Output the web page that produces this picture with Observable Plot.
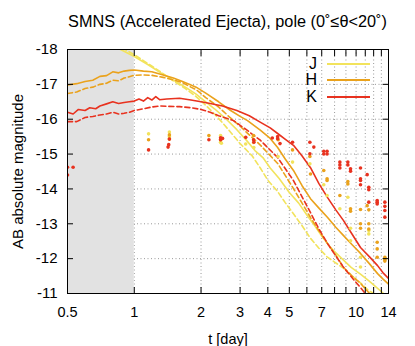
<!DOCTYPE html>
<html><head><meta charset="utf-8">
<script src="https://cdn.jsdelivr.net/npm/d3@7"></script>
<script src="https://cdn.jsdelivr.net/npm/@observablehq/plot@0.6"></script>
<style>
body{margin:0;background:#fff;font-family:"Liberation Sans",Arial,sans-serif;}
#wrap{position:relative;width:415px;height:346px;}
#title{position:absolute;left:27px;width:401px;top:12px;text-align:center;font-size:16.3px;white-space:nowrap;}
.lgl{position:absolute;font-size:16px;text-align:right;width:30px;line-height:16px;}
.lgs{position:absolute;height:2px;}
</style></head>
<body><div id="wrap"><div id="title">SMNS (Accelerated Ejecta), pole (0˚≤θ&lt;20˚)</div></div>
<script>
// ---- simulated light curves (t in days, AB magnitude) ----
const jSolidT = [0.5, 0.7, 0.85, 1.0, 1.15, 1.3, 1.5, 1.7, 1.9, 2.1, 2.3, 2.6, 2.9, 3.2, 3.5, 3.8, 4.1, 4.5, 5.0, 5.5, 6.0, 6.5, 7.0, 7.5, 8.0, 8.8, 9.5, 10.5, 11.5, 12.5, 13.3, 14];
const jSolidM = [-18.9, -18.4, -18.03, -17.8, -17.57, -17.35, -17.12, -16.92, -16.72, -16.5, -16.3, -16.0, -15.7, -15.4, -15.1, -14.9, -14.6, -14.3, -13.9, -13.6, -13.25, -12.95, -12.65, -12.4, -12.2, -11.95, -11.75, -11.55, -11.35, -11.15, -11.0, -10.85];
const jDashT = [0.5, 0.7, 0.85, 1.0, 1.15, 1.3, 1.5, 1.7, 1.9, 2.1, 2.3, 2.45, 2.7, 3.0, 3.4, 3.7, 4.0, 4.4, 4.8, 5.2, 5.7, 6.2, 6.8, 7.4, 8.0, 8.8, 9.6, 10.5, 11.3, 12.0, 12.6];
const jDashM = [-19.0, -18.5, -18.1, -17.85, -17.6, -17.38, -17.1, -16.88, -16.65, -16.4, -16.15, -15.96, -15.65, -15.3, -14.95, -14.6, -14.25, -13.95, -13.6, -13.3, -12.95, -12.6, -12.3, -12.05, -11.9, -11.72, -11.5, -11.3, -11.1, -11.0, -10.9];
const hSolidT = [0.5, 0.55, 0.6, 0.65, 0.7, 0.75, 0.8, 0.85, 0.9, 0.95, 1.0, 1.1, 1.2, 1.35, 1.5, 1.65, 1.8, 1.9, 2.1, 2.4, 2.72, 3.0, 3.24, 3.71, 4.1, 4.43, 4.8, 5.22, 5.7, 6.23, 6.8, 7.44, 8.1, 8.78, 9.6, 10.47, 11.5, 12.5, 13.2, 14];
const hSolidM = [-16.98, -17.02, -17.08, -17.12, -17.23, -17.25, -17.36, -17.33, -17.38, -17.4, -17.41, -17.38, -17.36, -17.27, -17.18, -17.08, -16.98, -16.92, -16.75, -16.5, -16.25, -16.08, -15.96, -15.68, -15.45, -15.19, -14.85, -14.53, -14.1, -13.72, -13.45, -13.18, -12.9, -12.66, -12.4, -12.15, -11.85, -11.57, -11.42, -11.27];
const hDashT = [0.5, 0.55, 0.6, 0.65, 0.7, 0.75, 0.8, 0.85, 0.9, 0.95, 1.0, 1.1, 1.2, 1.35, 1.5, 1.65, 1.8, 1.9, 2.1, 2.4, 2.7, 3.0, 3.3, 3.71, 4.43, 4.8, 5.22, 5.7, 6.23, 6.8, 7.44, 8.1, 8.78, 9.6, 10.47, 11.5];
const hDashM = [-16.74, -16.78, -16.88, -16.92, -17.0, -17.03, -17.12, -17.1, -17.18, -17.22, -17.26, -17.27, -17.26, -17.2, -17.13, -17.05, -16.92, -16.85, -16.62, -16.35, -16.05, -15.8, -15.55, -15.25, -14.73, -14.38, -14.01, -13.6, -13.18, -12.8, -12.43, -12.1, -11.75, -11.5, -11.29, -11.0];
const kSolidT = [0.5, 0.53, 0.56, 0.6, 0.63, 0.67, 0.7, 0.75, 0.8, 0.85, 0.9, 0.95, 1.0, 1.05, 1.1, 1.15, 1.2, 1.25, 1.3, 1.4, 1.6, 1.8, 2.0, 2.2, 2.5, 2.9, 3.3, 3.71, 4.1, 4.43, 4.8, 5.22, 5.7, 6.23, 6.8, 7.44, 8.1, 8.78, 9.6, 10.47, 11.5, 12.5, 13.2, 14];
const kSolidM = [-16.2, -16.15, -16.28, -16.25, -16.33, -16.3, -16.38, -16.44, -16.5, -16.45, -16.48, -16.5, -16.52, -16.58, -16.52, -16.62, -16.55, -16.65, -16.56, -16.58, -16.6, -16.55, -16.5, -16.45, -16.38, -16.25, -16.1, -15.91, -15.75, -15.59, -15.42, -15.25, -14.95, -14.61, -14.15, -13.75, -13.4, -13.09, -12.7, -12.32, -12.05, -11.8, -11.6, -11.43];
const kDashT = [0.5, 0.55, 0.6, 0.65, 0.7, 0.75, 0.8, 0.85, 0.9, 0.95, 1.0, 1.1, 1.2, 1.3, 1.4, 1.6, 1.8, 2.0, 2.2, 2.4, 2.8, 3.2, 3.71, 4.43, 5.22, 5.7, 6.23, 6.8, 7.44, 8.1, 8.78, 9.6, 10.47, 11.0];
const kDashM = [-15.93, -15.93, -16.05, -16.08, -16.12, -16.15, -16.2, -16.15, -16.17, -16.2, -16.25, -16.3, -16.35, -16.38, -16.37, -16.36, -16.33, -16.28, -16.2, -16.1, -15.96, -15.7, -15.39, -14.9, -14.24, -13.78, -13.32, -12.85, -12.43, -12.08, -11.75, -11.45, -11.17, -11.0];

// ---- observed points ----
const jObsT = [1.16, 1.44, 1.44, 2.45, 2.45, 2.47, 3.18, 3.45, 3.46, 4.45, 5.17, 6.19, 7.15, 7.4, 8.45, 9.18, 9.44, 9.44, 10.47, 10.47, 11.41, 11.41, 13.48];
const jObsM = [-15.58, -15.63, -15.5, -15.53, -15.34, -15.31, -15.29, -15.33, -15.19, -14.93, -14.77, -14.72, -14.12, -13.81, -13.43, -13.76, -12.87, -12.51, -12.04, -11.76, -12.81, -12.71, -12.0];
const hObsT = [1.16, 1.44, 1.44, 2.17, 2.45, 3.45, 4.45, 5.17, 6.19, 6.23, 7.15, 7.4, 7.4, 8.45, 9.18, 9.18, 9.44, 9.44, 10.47, 10.47, 10.47, 11.22, 11.41, 11.41, 11.41, 12.45, 12.45, 12.45, 13.48, 13.48, 13.48];
const hObsM = [-15.41, -15.55, -15.43, -15.53, -15.41, -15.53, -15.41, -15.12, -14.93, -14.43, -14.53, -14.29, -14.24, -13.81, -14.21, -14.14, -13.43, -13.36, -13.41, -13.0, -12.87, -13.52, -13.4, -13.0, -12.85, -12.47, -12.28, -12.04, -12.04, -11.97, -11.93];
const kObsT = [0.5, 0.53, 0.5, 1.16, 1.44, 1.43, 1.42, 2.17, 2.45, 2.45, 2.5, 3.18, 3.45, 3.46, 4.19, 4.43, 4.43, 4.54, 5.17, 6.19, 6.45, 6.19, 7.15, 7.15, 7.4, 7.4, 8.45, 8.45, 8.45, 9.18, 9.18, 9.44, 9.44, 10.47, 11.22, 10.47, 10.47, 10.47, 11.41, 11.41, 11.41, 12.45, 12.45, 12.45, 13.48, 13.48, 13.48, 13.48];
const kObsM = [-14.62, -14.62, -14.4, -15.12, -15.43, -15.27, -15.2, -15.41, -15.47, -15.41, -15.45, -15.48, -15.41, -15.34, -15.46, -15.5, -15.44, -15.3, -15.34, -15.34, -15.2, -15.01, -15.08, -15.0, -15.08, -15.0, -14.77, -14.69, -14.6, -14.77, -14.69, -14.58, -14.51, -14.6, -14.41, -14.29, -14.24, -14.12, -14.05, -13.98, -13.62, -13.67, -13.62, -13.57, -13.62, -13.5, -13.38, -13.19];

// ---- axes / legend ----
const bands = ["J", "H", "K"];
const bandColors = ["#f2e35c", "#eaa21c", "#e8321f"];
const xTickLabels = [0.5, 1, 2, 3, 4, 5, 7, 10, 14];
const xMinorTicks = [6, 8, 9, 11, 12, 13];
const xGrid = [1, 2, 3, 4, 5, 6, 7, 8, 9, 10, 11, 12, 13];
const yTicks = [-18, -17, -16, -15, -14, -13, -12, -11];
const shadeRange = [0.5, 1];
const xDomain = [0.5, 14];
const yDomain = [-18, -11];

const toRows = (T, M) => T.map((t, i) => ({t, m: M[i]}));
const series = [
  {rows: toRows(jDashT, jDashM), c: bandColors[0], dash: true},
  {rows: toRows(jSolidT, jSolidM), c: bandColors[0], dash: false},
  {rows: toRows(hDashT, hDashM), c: bandColors[1], dash: true},
  {rows: toRows(hSolidT, hSolidM), c: bandColors[1], dash: false},
  {rows: toRows(kDashT, kDashM), c: bandColors[2], dash: true},
  {rows: toRows(kSolidT, kSolidM), c: bandColors[2], dash: false}
];
const obs = [
  {rows: toRows(jObsT, jObsM), c: bandColors[0]},
  {rows: toRows(hObsT, hObsM), c: bandColors[1]},
  {rows: toRows(kObsT, kObsM), c: bandColors[2]}
];

const font = "'Liberation Sans', Arial, sans-serif";
const plot = Plot.plot({
  width: 415, height: 346,
  marginLeft: 67, marginRight: 27, marginTop: 49, marginBottom: 53,
  style: {fontFamily: font, fontSize: "14.5px", color: "#000", background: "transparent", overflow: "visible"},
  x: {type: "log", domain: xDomain},
  y: {domain: yDomain, reverse: true},
  marks: [
    Plot.gridX(xGrid, {stroke: "#999", strokeOpacity: 1, strokeDasharray: "1,2.5"}),
    Plot.gridY(yTicks, {stroke: "#999", strokeOpacity: 1, strokeDasharray: "1,2.5"}),
    Plot.rect([shadeRange], {x1: d => d[0], x2: d => d[1], fill: "#e2e2e2"}),
    ...series.map(s => Plot.line(s.rows, {x: "t", y: "m", stroke: s.c, strokeWidth: 1.6, strokeDasharray: s.dash ? "5,3" : null, clip: true})),
    ...obs.map(o => Plot.dot(o.rows, {x: "t", y: "m", fill: o.c, r: 1.8, clip: true})),
    Plot.axisX(xTickLabels, {anchor: "bottom", ticks: Infinity, tickSize: -6, tickPadding: 19, tickFormat: d => String(d), label: "t [day]", labelArrow: "none", labelAnchor: "center", labelOffset: 50, fontSize: 14.5}),
    Plot.axisX(xMinorTicks, {anchor: "bottom", ticks: Infinity, tickSize: -6, tickFormat: () => "", label: null}),
    Plot.axisX(xTickLabels.concat(xMinorTicks), {anchor: "top", ticks: Infinity, tickSize: -6, tickFormat: () => "", label: null}),
    Plot.axisY(yTicks, {anchor: "left", tickSize: -6, tickPadding: 16, tickFormat: d => String(d), label: "AB absolute magnitude", labelArrow: "none", labelAnchor: "center", labelOffset: 55, fontSize: 15}),
    Plot.axisY(yTicks, {anchor: "right", tickSize: -6, tickFormat: () => "", label: null}),
    Plot.frame({stroke: "#000"})
  ]
});
const wrap = document.getElementById("wrap");
wrap.appendChild(plot);
plot.style.position = "absolute"; plot.style.left = "0"; plot.style.top = "0";
// legend overlay
bands.forEach((b, i) => {
  const y = 64 + i * 16.3;
  const l = document.createElement("div");
  l.className = "lgl"; l.textContent = b;
  l.style.left = "287px"; l.style.top = (y - 8) + "px";
  wrap.appendChild(l);
  const s = document.createElement("div");
  s.className = "lgs"; s.style.background = bandColors[i];
  s.style.left = "327px"; s.style.width = "43px"; s.style.top = (y - 1) + "px";
  wrap.appendChild(s);
});
</script>
</body></html>
